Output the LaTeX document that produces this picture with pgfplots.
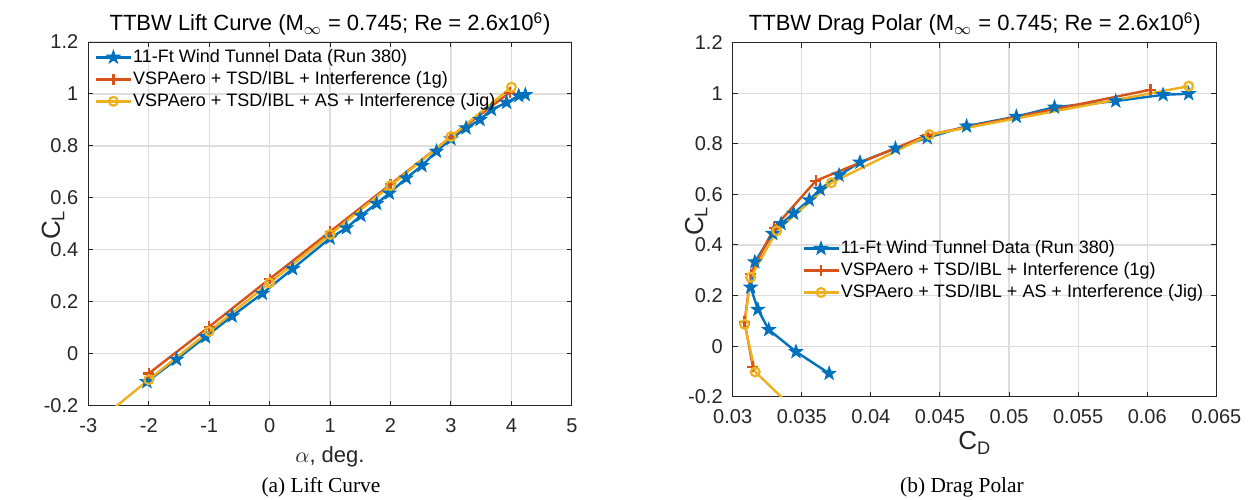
\documentclass[border=0pt]{standalone}
\usepackage{pgfplots}
\pgfplotsset{compat=1.18}
\usepackage{fontspec}
\setmainfont{Liberation Sans}
\newfontfamily\capfont{Liberation Serif}
\usetikzlibrary{plotmarks}
\definecolor{mblue}{rgb}{0,0.447,0.741}
\definecolor{morange}{rgb}{0.85,0.325,0.098}
\definecolor{myellow}{rgb}{0.929,0.694,0.125}
\definecolor{axgray}{rgb}{0.15,0.15,0.15}

\pgfdeclareplotmark{pstar}{%
 \pgfpathmoveto{\pgfpointpolar{90}{\pgfplotmarksize}}%
 \pgfpathlineto{\pgfpointpolar{126}{0.40\pgfplotmarksize}}%
 \pgfpathlineto{\pgfpointpolar{162}{\pgfplotmarksize}}%
 \pgfpathlineto{\pgfpointpolar{198}{0.40\pgfplotmarksize}}%
 \pgfpathlineto{\pgfpointpolar{234}{\pgfplotmarksize}}%
 \pgfpathlineto{\pgfpointpolar{270}{0.40\pgfplotmarksize}}%
 \pgfpathlineto{\pgfpointpolar{306}{\pgfplotmarksize}}%
 \pgfpathlineto{\pgfpointpolar{342}{0.40\pgfplotmarksize}}%
 \pgfpathlineto{\pgfpointpolar{18}{\pgfplotmarksize}}%
 \pgfpathlineto{\pgfpointpolar{54}{0.40\pgfplotmarksize}}%
 \pgfpathclose
 \pgfusepathqfillstroke}

\pgfplotsset{
 mystyle/.style={
  scale only axis, width=241.8pt,
  axis line style={axgray, line width=0.5pt},
  tick style={axgray, line width=0.5pt},
  major tick length=2.5pt,
  tick align=inside,
  grid=major,
  major grid style={black!13, line width=0.6pt},
  tick label style={font=\fontsize{10}{12}\selectfont, text=axgray},
  xticklabel style={yshift=-3pt},
  yticklabel style={xshift=-1.5pt},
  /pgf/number format/assume math mode=true,
  scaled x ticks=false, scaled y ticks=false,
  legend cell align=left,
  legend style={draw=none, fill=none, font=\fontsize{9}{11}\selectfont, text=black,
    inner xsep=3pt, inner ysep=3.3pt, row sep=2.7pt,
    nodes={inner xsep=0.5pt, inner ysep=0pt, text height=6.5pt, text depth=1.8pt}},
  legend image code/.code={\draw[mark repeat=2,mark phase=2] plot coordinates {(0pt,0pt)(8.75pt,0pt)(17.5pt,0pt)};},
  ytick={-0.2,0,0.2,0.4,0.6,0.8,1,1.2},
  yticklabels={-0.2,0,0.2,0.4,0.6,0.8,1,1.2},
  ymin=-0.2, ymax=1.2,
 },
 wtstyle/.style={color=mblue, line width=1.2pt, mark=pstar, mark size=3.4pt, mark options={solid, fill=mblue, line width=0.5pt}},
 gstyle/.style={color=morange, line width=1.2pt, mark=+, mark size=2.7pt, mark options={solid, line width=1.1pt}},
 jstyle/.style={color=myellow, line width=1.2pt, mark=o, mark size=2.2pt, mark options={solid, line width=1.1pt}},
}

\begin{document}
\begin{tikzpicture}
\useasboundingbox (0,0) rectangle (625pt,249.5pt);

% ---------- Lift curve ----------
\begin{axis}[mystyle, height=181.85pt, at={(44.15pt,46.65pt)}, anchor=south west,
  xmin=-3, xmax=5, xtick={-3,-2,-1,0,1,2,3,4,5},
  xticklabels={-3,-2,-1,0,1,2,3,4,5},
  legend style={at={(0,1)}, anchor=north west}]
\addplot[wtstyle] coordinates {
(-2.03,-0.108) (-1.54,-0.022) (-1.06,0.065) (-0.62,0.145) (-0.12,0.232)
(0.38,0.327) (1.00,0.445) (1.27,0.484) (1.51,0.532) (1.77,0.578)
(1.98,0.618) (2.26,0.676) (2.52,0.724) (2.76,0.779) (3.00,0.827)
(3.25,0.869) (3.48,0.901) (3.67,0.940) (3.92,0.967) (4.12,0.993) (4.23,0.997)};
\addlegendentry{11-Ft Wind Tunnel Data (Run 380)}
\addplot[gstyle] coordinates {
(-2,-0.076) (-1,0.104) (0,0.288) (1,0.470) (2,0.652) (3,0.835) (3.97,1.005)};
\addlegendentry{VSPAero + TSD/IBL + Interference (1g)}
\addplot[jstyle] coordinates {
(-2,-0.100) (-1,0.086) (0,0.273) (1,0.459) (2,0.647) (3,0.836) (4,1.026)};
\addlegendentry{VSPAero + TSD/IBL + AS + Interference (Jig)}
\addplot[color=myellow, line width=1.2pt, forget plot] coordinates {(-2,-0.100) (-3,-0.290)};
\end{axis}

% ---------- Drag polar ----------
\begin{axis}[mystyle, height=177pt, at={(366.35pt,51.15pt)}, anchor=south west,
  xmin=0.03, xmax=0.065, xtick={0.03,0.035,0.04,0.045,0.05,0.055,0.06,0.065},
  xticklabels={0.03,0.035,0.04,0.045,0.05,0.055,0.06,0.065},
  legend style={at={(0.1308,0.4619)}, anchor=north west}]
\addplot[wtstyle] coordinates {
(0.03698,-0.108) (0.03458,-0.022) (0.03261,0.065) (0.03182,0.145) (0.03130,0.233)
(0.03160,0.333) (0.03290,0.445) (0.03350,0.484) (0.03441,0.525) (0.03554,0.578)
(0.03633,0.620) (0.03770,0.676) (0.03921,0.727) (0.04178,0.782) (0.04408,0.824)
(0.04693,0.870) (0.05053,0.908) (0.05329,0.945) (0.05772,0.969) (0.06115,0.994) (0.06300,0.998)};
\addlegendentry{11-Ft Wind Tunnel Data (Run 380)}
\addplot[gstyle] coordinates {
(0.03146,-0.082) (0.03086,0.096) (0.03130,0.285) (0.03300,0.468) (0.03602,0.654) (0.04411,0.835) (0.06024,1.014)};
\addlegendentry{VSPAero + TSD/IBL + Interference (1g)}
\addplot[jstyle] coordinates {
(0.03163,-0.102) (0.03086,0.086) (0.03130,0.272) (0.03319,0.456) (0.03714,0.646) (0.04425,0.836) (0.06300,1.028)};
\addlegendentry{VSPAero + TSD/IBL + AS + Interference (Jig)}
\addplot[color=myellow, line width=1.2pt, forget plot] coordinates {(0.03163,-0.102) (0.03522,-0.290)};
\end{axis}

% ---------- titles, labels, captions ----------
\node[anchor=base, font=\fontsize{11}{13}\selectfont] at (165pt,234pt)
  {TTBW Lift Curve (M\textsubscript{$\infty$} = 0.745; Re = 2.6x10\textsuperscript{6})};
\node[anchor=base, font=\fontsize{11}{13}\selectfont] at (487.4pt,234pt)
  {TTBW Drag Polar (M\textsubscript{$\infty$} = 0.745; Re = 2.6x10\textsuperscript{6})};
\node[rotate=90, anchor=base, font=\fontsize{13}{15}\selectfont, text=axgray] at (30pt,137pt) {C\textsubscript{L}};
\node[rotate=90, anchor=base, font=\fontsize{13}{15}\selectfont, text=axgray] at (351.5pt,139pt) {C\textsubscript{L}};
\node[anchor=base, font=\fontsize{11}{13}\selectfont, text=axgray] at (165pt,18.5pt) {$\alpha$, deg.};
\node[anchor=base, font=\fontsize{13}{15}\selectfont, text=axgray] at (487.4pt,24.5pt) {C\textsubscript{D}};
\node[anchor=base, font=\capfont\fontsize{10.7}{12.5}\selectfont] at (160.5pt,3pt) {(a) Lift Curve};
\node[anchor=base, font=\capfont\fontsize{10.7}{12.5}\selectfont] at (481pt,3pt) {(b) Drag Polar};
\end{tikzpicture}
\end{document}
